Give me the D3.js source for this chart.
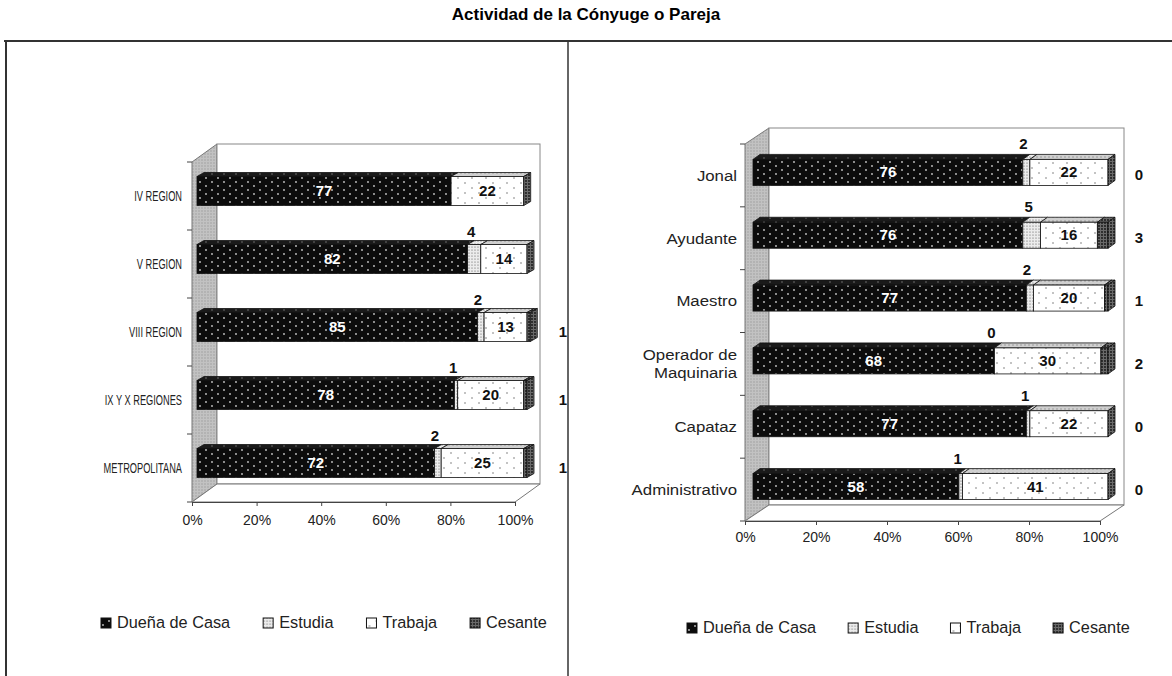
<!DOCTYPE html>
<html>
<head>
<meta charset="utf-8">
<script src="https://cdn.jsdelivr.net/npm/d3@7/dist/d3.min.js"></script>
<style>
  body { margin: 0; background: #fff; }
  text { font-family: "Liberation Sans", Arial, sans-serif; }
</style>
</head>
<body>
<script>
// ---- data ----
const seriesNames = ["Dueña de Casa", "Estudia", "Trabaja", "Cesante"];
const xTicks = [0, 20, 40, 60, 80, 100];

const regionCats = ["IV REGION", "V REGION", "VIII REGION", "IX Y X REGIONES", "METROPOLITANA"];
const regionDuena = [77, 82, 85, 78, 72];
const regionEstudia = [null, 4, 2, 1, 2];
const regionTrabaja = [22, 14, 13, 20, 25];
const regionCesante = [null, null, 1, 1, 1];

const jobCats = ["Jonal", "Ayudante", "Maestro", "Operador de|Maquinaria", "Capataz", "Administrativo"];
const jobDuena = [76, 76, 77, 68, 77, 58];
const jobEstudia = [2, 5, 2, 0, 1, 1];
const jobTrabaja = [22, 16, 20, 30, 22, 41];
const jobCesante = [0, 3, 1, 2, 0, 0];

const svg = d3.select("body").append("svg")
  .attr("width", 1172).attr("height", 676);

// ---- fill patterns ----
const defs = svg.append("defs");
function dotPattern(id, w, h, bg, dots, dotFill, r) {
  const p = defs.append("pattern").attr("id", id)
    .attr("patternUnits", "userSpaceOnUse").attr("width", w).attr("height", h);
  p.append("rect").attr("width", w).attr("height", h).attr("fill", bg);
  dots.forEach(d => p.append("circle").attr("cx", d[0]).attr("cy", d[1]).attr("r", r).attr("fill", dotFill));
}
dotPattern("pDuena", 12, 8, "#0c0c0c", [[2, 2], [8, 6]], "#c8c8c8", 0.9);
dotPattern("pDuenaTop", 12, 8, "#1a1a1a", [[2, 2], [8, 6]], "#888", 0.7);
dotPattern("pEstudia", 3, 3, "#ececec", [[1, 1]], "#555", 0.6);
dotPattern("pTrabaja", 14, 10, "#fff", [[3, 3], [10, 8]], "#777", 0.8);
dotPattern("pTrabajaTop", 4, 4, "#cfcfcf", [[1, 1]], "#888", 0.7);
dotPattern("pCesante", 3, 3, "#6a6a6a", [[1, 1]], "#111", 0.9);
dotPattern("pWall", 3, 3, "#c2c2c2", [[1, 1]], "#9a9a9a", 0.7);

const frontFill = ["url(#pDuena)", "url(#pEstudia)", "url(#pTrabaja)", "url(#pCesante)"];
const topFill = ["url(#pDuenaTop)", "url(#pEstudia)", "url(#pTrabajaTop)", "url(#pCesante)"];

// ---- title and frame ----
svg.append("text")
  .attr("x", 586).attr("y", 20)
  .attr("text-anchor", "middle")
  .style("font-size", "17px").style("font-weight", "bold")
  .text("Actividad de la Cónyuge o Pareja");

const frame = svg.append("g").attr("stroke", "#333").attr("fill", "none");
frame.append("line").attr("x1", 4).attr("x2", 1172).attr("y1", 41).attr("y2", 41).attr("stroke-width", 2);
frame.append("line").attr("x1", 6).attr("x2", 6).attr("y1", 41).attr("y2", 676).attr("stroke-width", 2);
frame.append("line").attr("x1", 568).attr("x2", 568).attr("y1", 41).attr("y2", 676).attr("stroke-width", 1.5);

// ---- one 3D stacked bar panel ----
function drawPanel(cfg) {
  const g = svg.append("g");
  const rows = cfg.cats.map((c, i) => ({
    cat: c,
    vals: [cfg.duena[i], cfg.estudia[i], cfg.trabaja[i], cfg.cesante[i]]
  }));

  const x = d3.scaleLinear().domain([0, 100]).range([cfg.x0, cfg.x1]);
  const xb = d3.scaleLinear().domain([0, 100]).range([cfg.bx0, cfg.bx1]);
  const y = d3.scaleBand().domain(cfg.cats).range([cfg.y0, cfg.y1]).padding(0);
  const dx = cfg.depthX, dy = cfg.depthY;

  // walls
  g.append("polygon")
    .attr("points", [[cfg.x0, cfg.y0], [cfg.x0 + dx, cfg.y0 + dy], [cfg.x0 + dx, cfg.y1 + dy], [cfg.x0, cfg.y1]].join(" "))
    .attr("fill", "url(#pWall)").attr("stroke", "#777");
  g.append("rect")
    .attr("x", cfg.x0 + dx).attr("y", cfg.y0 + dy)
    .attr("width", cfg.x1 - cfg.x0).attr("height", cfg.y1 - cfg.y0)
    .attr("fill", "#fff").attr("stroke", "#888");
  g.append("polygon")
    .attr("points", [[cfg.x0, cfg.y1], [cfg.x1, cfg.y1], [cfg.x1 + dx, cfg.y1 + dy], [cfg.x0 + dx, cfg.y1 + dy]].join(" "))
    .attr("fill", "#fff").attr("stroke", "#777");

  // x axis on the front floor edge
  const xAxis = g.append("g")
    .attr("transform", `translate(0,${cfg.y1})`)
    .call(d3.axisBottom(x).tickValues(xTicks).tickFormat(d => d + "%").tickSize(4).tickSizeOuter(0));
  xAxis.select(".domain").attr("stroke", "#444");
  xAxis.selectAll("line").attr("stroke", "#444");
  xAxis.selectAll("text").style("font-size", "14px").style("font-family", "Liberation Sans, Arial, sans-serif")
    .attr("fill", "#222").attr("y", cfg.tickLabelY).attr("dy", "0.9em");

  // category ticks at band edges
  const edges = cfg.cats.map(c => y(c)).concat([cfg.y1]);
  g.selectAll(".ctick").data(edges).join("line")
    .attr("x1", cfg.x0 - 5).attr("x2", cfg.x0)
    .attr("y1", d => d).attr("y2", d => d)
    .attr("stroke", "#444");

  // category labels
  g.selectAll(".clabel").data(cfg.cats).join("text")
    .attr("text-anchor", "end")
    .attr("transform", d => `translate(${cfg.x0 - cfg.labelGap},${y(d) + y.bandwidth() / 2}) scale(${cfg.labelScale},1)`)
    .style("font-size", cfg.labelSize + "px")
    .attr("fill", "#222")
    .each(function(d) {
      const parts = d.split("|");
      d3.select(this).selectAll("tspan").data(parts).join("tspan")
        .attr("x", 0)
        .attr("dy", (p, k) => k === 0 ? (0.35 - (parts.length - 1) * 0.6) + "em" : "1.2em")
        .text(p => p);
    });

  // bars
  rows.forEach(row => {
    const cy = y(row.cat) + y.bandwidth() / 2 - cfg.barShift;
    const top = cy - cfg.barH / 2;
    let acc = 0;
    const segs = [];
    row.vals.forEach((v, j) => {
      const a = acc;
      acc += v || 0;
      segs.push({ j: j, v: v, a: xb(a), b: xb(acc) });
    });
    const drawn = segs.filter(s => s.b > s.a);
    const bar = g.append("g");

    bar.selectAll(".top").data(drawn).join("polygon")
      .attr("points", s => [[s.a, top], [s.b, top], [s.b + cfg.barDX, top + cfg.barDY], [s.a + cfg.barDX, top + cfg.barDY]].join(" "))
      .attr("fill", s => topFill[s.j]).attr("stroke", "#111").attr("stroke-width", 0.8);

    bar.selectAll(".front").data(drawn).join("rect")
      .attr("x", s => s.a).attr("y", top)
      .attr("width", s => s.b - s.a).attr("height", cfg.barH)
      .attr("fill", s => frontFill[s.j]).attr("stroke", "#111").attr("stroke-width", 0.8);

    const last = drawn[drawn.length - 1];
    bar.append("polygon")
      .attr("points", [[last.b, top], [last.b + cfg.barDX, top + cfg.barDY], [last.b + cfg.barDX, top + cfg.barH + cfg.barDY], [last.b, top + cfg.barH]].join(" "))
      .attr("fill", "url(#pCesante)").attr("stroke", "#111").attr("stroke-width", 0.8);

    // value labels
    const lab = () => bar.append("text")
      .attr("text-anchor", "middle")
      .style("font-size", "15px").style("font-weight", "bold");
    const s0 = segs[0], s1 = segs[1], s2 = segs[2], s3 = segs[3];
    if (s0.v != null) lab().attr("x", (s0.a + s0.b) / 2).attr("y", cy + 5).attr("fill", "#fff").text(s0.v);
    if (s2.v != null) lab().attr("x", (s2.a + s2.b) / 2).attr("y", cy + 5).attr("fill", "#111").text(s2.v);
    if (s1.v != null) lab().attr("x", (s1.a + s1.b) / 2 - 3).attr("y", top - cfg.estGap).attr("fill", "#111").text(s1.v);
    if (s3.v != null) lab().attr("x", cfg.cesX).attr("y", y(row.cat) + y.bandwidth() / 2 + 5).attr("fill", "#111").text(s3.v);
  });

  // legend
  const legend = g.append("g").attr("transform", `translate(${cfg.legX},${cfg.legY})`);
  let lx = 0;
  seriesNames.forEach((name, j) => {
    const item = legend.append("g").attr("transform", `translate(${lx},0)`);
    item.append("rect").attr("x", 0).attr("y", -5).attr("width", 10).attr("height", 10)
      .attr("fill", frontFill[j]).attr("stroke", "#111");
    const t = item.append("text").attr("x", 16).attr("y", 5)
      .style("font-size", "16.3px").attr("fill", "#222").text(name);
    lx += 16 + t.node().getComputedTextLength() + cfg.legGap;
  });
}

drawPanel({
  cats: regionCats, duena: regionDuena, estudia: regionEstudia, trabaja: regionTrabaja, cesante: regionCesante,
  x0: 192, x1: 515, y0: 162, y1: 502, depthX: 25, depthY: -18,
  bx0: 197, bx1: 527, barH: 29, barShift: 5, barDX: 7, barDY: -4,
  labelSize: 14, labelScale: 0.66, labelGap: 10, tickLabelY: 10,
  estGap: 8, cesX: 563, legX: 101, legY: 623, legGap: 33
});

drawPanel({
  cats: jobCats, duena: jobDuena, estudia: jobEstudia, trabaja: jobTrabaja, cesante: jobCesante,
  x0: 745, x1: 1100, y0: 144, y1: 521, depthX: 24, depthY: -16,
  bx0: 753, bx1: 1108, barH: 26, barShift: 3, barDX: 7, barDY: -5,
  labelSize: 15, labelScale: 1.12, labelGap: 8, tickLabelY: 8,
  estGap: 10, cesX: 1139, legX: 687, legY: 628, legGap: 32
});
</script>
</body>
</html>
